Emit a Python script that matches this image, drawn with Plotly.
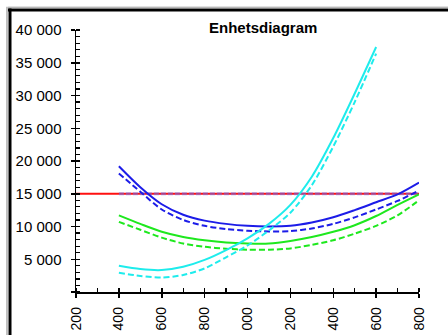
import plotly.graph_objects as go

# ---- data ----
x_vals = [400, 500, 600, 700, 800, 900, 1000, 1100, 1200, 1300, 1400, 1500, 1600, 1700, 1800]
blue_solid = [19200, 16000, 13400, 11800, 10900, 10400, 10100, 10000, 10100, 10600, 11400, 12500, 13700, 14900, 16700]
blue_dash = [18100, 15300, 12600, 11000, 10100, 9600, 9350, 9250, 9300, 9700, 10400, 11400, 12600, 13900, 15500]
green_solid = [11700, 10400, 9200, 8400, 7900, 7550, 7400, 7400, 7800, 8400, 9200, 10200, 11600, 13300, 14900]
green_dash = [10700, 9500, 8300, 7400, 6900, 6600, 6450, 6450, 6650, 7200, 7900, 8900, 10100, 11700, 14000]
cyan_x = [400, 500, 600, 700, 800, 900, 1000, 1100, 1200, 1300, 1400, 1500, 1600]
cyan_solid = [4000, 3500, 3350, 3850, 4900, 6400, 8200, 10400, 13300, 17600, 23500, 30300, 37400]
cyan_dash = [2950, 2450, 2200, 2600, 3600, 5300, 7100, 9400, 12100, 16300, 22200, 29000, 36400]
limit_value = 15000
limit_x_full = [200, 1800]
limit_x_part = [400, 1800]

x_ticks = [200, 400, 600, 800, 1000, 1200, 1400, 1600, 1800]
x_tick_text = ["200", "400", "600", "800", "1 000", "1 200", "1 400", "1 600", "1 800"]
y_ticks = [0, 5000, 10000, 15000, 20000, 25000, 30000, 35000, 40000]
y_tick_text = ["", "5 000", "10 000", "15 000", "20 000", "25 000", "30 000", "35 000", "40 000"]
title_text = "Enhetsdiagram"

BLUE = "#1c1ce8"
GREEN = "#1ee81e"
CYAN = "#1eecec"
RED = "#ff1010"
FONT = "Liberation Sans, Arial, sans-serif"

fig = go.Figure()

# limit line
fig.add_trace(go.Scatter(x=limit_x_full, y=[limit_value] * 2, mode="lines",
                         line=dict(color=RED, width=2), hoverinfo="skip"))
fig.add_trace(go.Scatter(x=limit_x_part, y=[limit_value] * 2, mode="lines",
                         line=dict(color="rgba(110,110,235,0.55)", width=3, dash="5px,2px"),
                         hoverinfo="skip"))

spline = dict(shape="spline", smoothing=0.8)
fig.add_trace(go.Scatter(x=x_vals, y=blue_solid, mode="lines",
                         line=dict(color=BLUE, width=2, **spline)))
fig.add_trace(go.Scatter(x=x_vals, y=blue_dash, mode="lines",
                         line=dict(color=BLUE, width=2, dash="6px,3px", **spline)))
fig.add_trace(go.Scatter(x=x_vals, y=green_solid, mode="lines",
                         line=dict(color=GREEN, width=2, **spline)))
fig.add_trace(go.Scatter(x=x_vals, y=green_dash, mode="lines",
                         line=dict(color=GREEN, width=2, dash="6px,3px", **spline)))
fig.add_trace(go.Scatter(x=cyan_x, y=cyan_solid, mode="lines",
                         line=dict(color=CYAN, width=2, **spline)))
fig.add_trace(go.Scatter(x=cyan_x, y=cyan_dash, mode="lines",
                         line=dict(color=CYAN, width=2, dash="6px,3px", **spline)))

# invisible trace for overlay axes (inside major ticks)
fig.add_trace(go.Scatter(x=[200], y=[0], xaxis="x2", yaxis="y2", mode="markers",
                         marker=dict(opacity=0), hoverinfo="skip", showlegend=False))

fig.update_layout(
    width=448, height=335,
    margin=dict(l=76, r=29, t=30, b=43, autoexpand=False),
    paper_bgcolor="white", plot_bgcolor="white",
    showlegend=False,
    font=dict(family=FONT, color="black"),
    xaxis=dict(range=[200, 1800], showgrid=False, zeroline=False,
               showline=True, linecolor="black", linewidth=1.5,
               tickmode="array", tickvals=x_ticks, ticktext=x_tick_text,
               ticks="outside", ticklen=4, tickwidth=1.5, tickcolor="black",
               tickangle=-90, tickfont=dict(size=14, family=FONT),
               ticklabelstandoff=4,
               minor=dict(dtick=100, tick0=200, ticks="inside", ticklen=4,
                          tickwidth=1.2, tickcolor="black", showgrid=False),
               automargin=False, fixedrange=True),
    yaxis=dict(range=[0, 40000], showgrid=False, zeroline=False,
               showline=True, linecolor="black", linewidth=1.5,
               tickmode="array", tickvals=y_ticks, ticktext=y_tick_text,
               ticks="outside", ticklen=4, tickwidth=1.5, tickcolor="black",
               tickfont=dict(size=15, family=FONT),
               ticklabelstandoff=6,
               minor=dict(dtick=1000, tick0=0, ticks="inside", ticklen=4,
                          tickwidth=1.2, tickcolor="black", showgrid=False),
               automargin=False, fixedrange=True),
    xaxis2=dict(range=[200, 1800], overlaying="x", showgrid=False, zeroline=False,
                showline=False, tickmode="array", tickvals=x_ticks,
                ticks="inside", ticklen=4, tickwidth=1.5, tickcolor="black",
                showticklabels=False, side="bottom", anchor="y2", automargin=False),
    yaxis2=dict(range=[0, 40000], overlaying="y", showgrid=False, zeroline=False,
                showline=False, tickmode="array", tickvals=y_ticks,
                ticks="inside", ticklen=4, tickwidth=1.5, tickcolor="black",
                showticklabels=False, side="left", anchor="x2", automargin=False),
    annotations=[dict(text="<b>" + title_text + "</b>", xref="paper", yref="paper",
                      x=0.545, y=1.008, xanchor="center", yanchor="middle",
                      showarrow=False, font=dict(size=15, family=FONT, color="black"))],
    shapes=[
        # outer frame: gray thin + black thick, top and left
        dict(type="line", xref="paper", yref="paper", x0=-0.1983, x1=1.09, y0=1.087, y1=1.087,
             line=dict(color="#999999", width=1)),
        dict(type="line", xref="paper", yref="paper", x0=-0.1983, x1=1.09, y0=1.0765, y1=1.0765,
             line=dict(color="black", width=3)),
        dict(type="line", xref="paper", yref="paper", x0=-0.2012, x1=-0.2012, y0=-0.3, y1=1.0885,
             line=dict(color="#999999", width=1.2)),
        dict(type="line", xref="paper", yref="paper", x0=-0.1924, x1=-0.1924, y0=-0.3, y1=1.082,
             line=dict(color="black", width=3)),
    ],
)

fig.write_html(
    "out.html",
    config={"displayModeBar": False, "staticPlot": True},
    post_script="document.body.style.margin='0';document.body.style.padding='0';"
                "document.body.style.overflow='hidden';",
)
